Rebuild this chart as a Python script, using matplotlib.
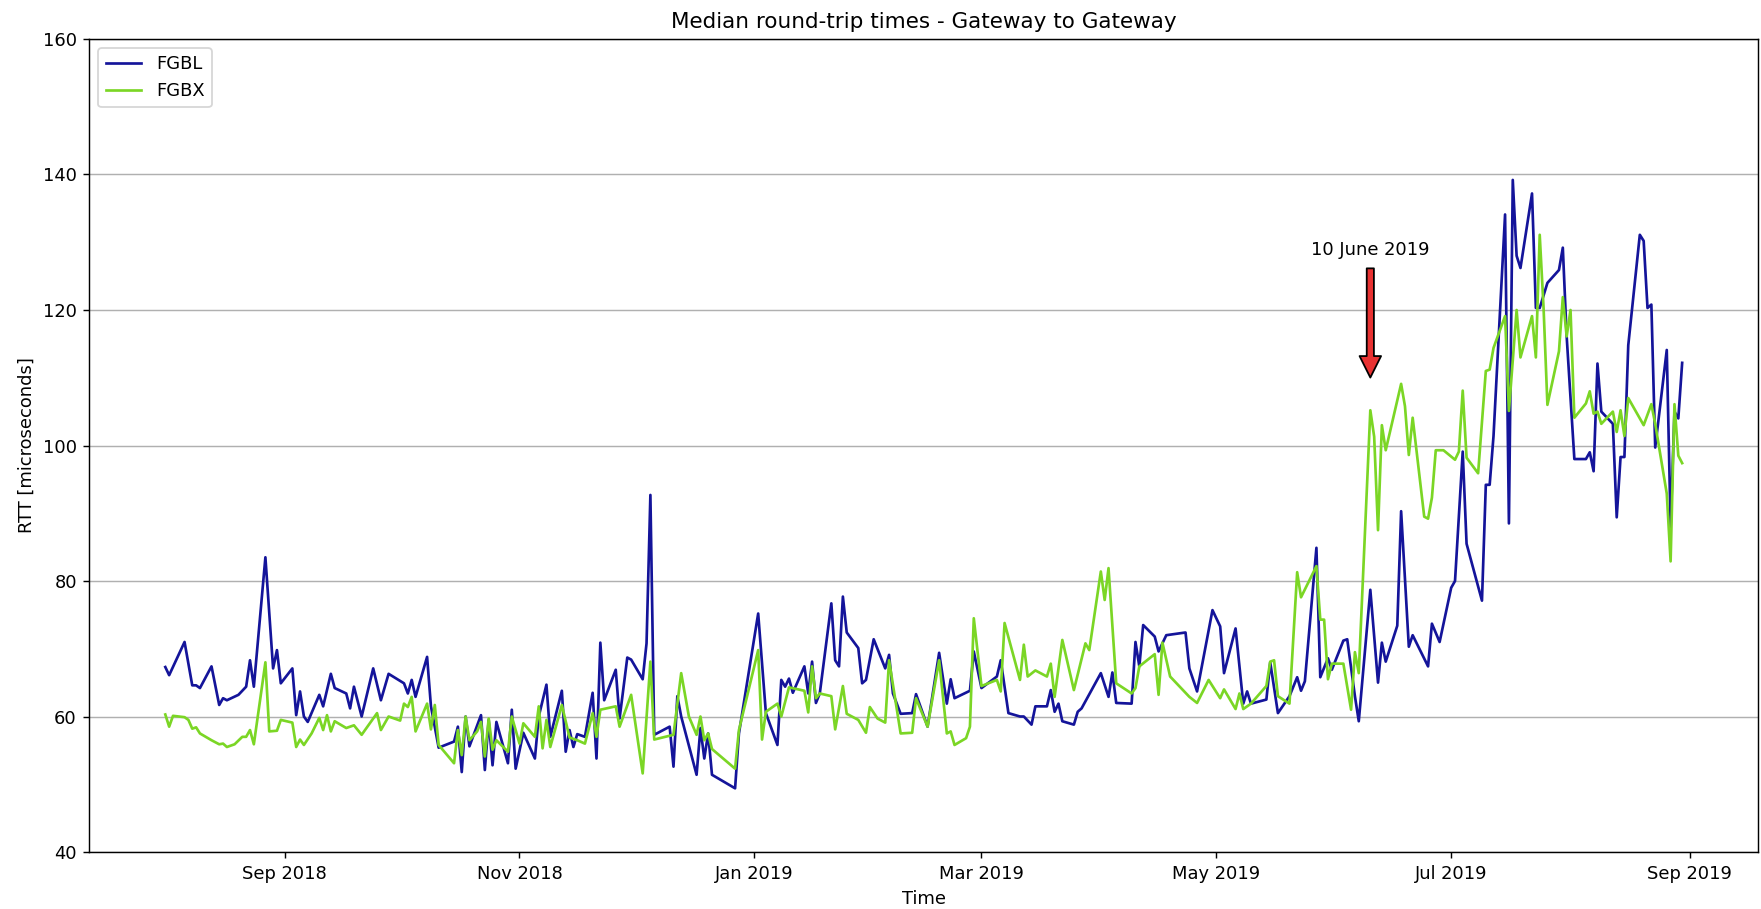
import matplotlib
matplotlib.use("Agg")
import matplotlib.pyplot as plt
import matplotlib.dates as mdates
import numpy as np

# Median RTT per day, day offsets counted from 1 Aug 2018
start = np.datetime64("2018-08-01")

fgbl_day = [0, 1, 5, 7, 8, 9, 12, 14, 15, 16, 19, 21, 22, 23, 26, 28, 29, 30, 33, 34,
            35, 36, 37, 40, 41, 43, 44, 47, 48, 49, 51, 54, 56, 58, 62, 63, 64, 65, 68, 69,
            71, 75, 76, 77, 78, 79, 82, 83, 84, 85, 86, 89, 90, 91, 93, 96, 97, 99, 100, 103,
            104, 105, 106, 107, 109, 111, 112, 113, 114, 117, 118, 120, 121, 124, 125, 126, 127, 131, 132, 133,
            134, 138, 139, 140, 141, 142, 148, 149, 154, 156, 159, 160, 161, 162, 163, 166, 167, 168, 169, 170,
            173, 174, 175, 176, 177, 180, 181, 182, 184, 187, 188, 189, 191, 194, 195, 198, 201, 203, 204, 205,
            209, 210, 212, 216, 217, 219, 222, 223, 225, 226, 229, 230, 231, 232, 233, 236, 237, 238, 243, 245,
            246, 247, 251, 252, 253, 254, 257, 258, 260, 265, 266, 268, 272, 274, 275, 278, 280, 281, 282, 286,
            287, 289, 292, 294, 295, 296, 299, 300, 302, 303, 306, 307, 309, 310, 313, 315, 316, 317, 320, 321,
            323, 324, 328, 329, 331, 334, 335, 337, 338, 342, 343, 344, 345, 348, 349, 350, 351, 352, 355, 356,
            357, 359, 362, 363, 364, 366, 369, 370, 371, 372, 373, 376, 377, 378, 379, 380, 383, 384, 385, 386,
            387, 390, 391, 392, 393, 394]
fgbl_rtt = [67.3, 66.1, 71.0, 64.6, 64.6, 64.2, 67.4, 61.7, 62.7, 62.4, 63.2, 64.4, 68.3, 64.4, 83.5, 67.1, 69.8, 64.9, 67.1, 60.2,
            63.7, 60.0, 59.2, 63.2, 61.5, 66.3, 64.2, 63.4, 61.2, 64.4, 60.0, 67.1, 62.4, 66.3, 64.9, 63.4, 65.4, 62.9, 68.8, 61.5,
            55.4, 56.3, 58.5, 51.8, 60.0, 55.6, 60.2, 52.1, 59.5, 52.8, 59.2, 53.1, 61.0, 52.3, 57.6, 53.8, 60.0, 64.7, 57.0, 63.8,
            54.8, 58.0, 55.5, 57.4, 57.0, 63.5, 53.8, 70.9, 62.4, 66.9, 59.7, 68.7, 68.4, 65.5, 70.8, 92.7, 57.3, 58.5, 52.6, 63.0,
            60.0, 51.4, 58.3, 53.8, 57.5, 51.4, 49.4, 57.5, 75.2, 60.5, 55.8, 65.4, 64.4, 65.6, 63.5, 67.4, 63.4, 68.1, 62.0, 63.4,
            76.7, 68.3, 67.4, 77.7, 72.4, 70.1, 64.9, 65.4, 71.4, 67.1, 69.1, 63.4, 60.4, 60.5, 63.3, 58.5, 69.4, 61.9, 65.5, 62.7,
            63.8, 69.6, 64.2, 65.9, 68.3, 60.5, 60.0, 60.0, 58.8, 61.5, 61.5, 63.9, 60.7, 61.9, 59.3, 58.8, 60.7, 61.2, 66.4, 62.9,
            66.5, 62.0, 61.9, 71.0, 67.4, 73.5, 71.8, 69.6, 72.0, 72.4, 67.1, 63.7, 75.7, 73.3, 66.4, 73.0, 61.9, 63.7, 61.9, 62.5,
            68.0, 60.5, 63.0, 65.8, 63.8, 65.2, 84.9, 65.8, 68.6, 66.9, 71.2, 71.4, 63.0, 59.3, 78.7, 65.0, 70.9, 68.1, 73.4, 90.3,
            70.3, 72.0, 67.4, 73.7, 71.0, 79.0, 80.0, 99.1, 85.5, 77.1, 94.2, 94.2, 101.4, 134.1, 88.5, 139.2, 128.0, 126.2, 137.2, 120.3,
            120.3, 124.0, 125.9, 129.2, 116.1, 98.0, 98.0, 99.0, 96.2, 112.1, 105.0, 103.2, 89.4, 98.3, 98.3, 114.8, 131.1, 130.2, 120.3, 120.8,
            99.7, 114.1, 88.0, 105.0, 104.0, 112.2]

fgbx_day = [0, 1, 2, 5, 6, 7, 8, 9, 12, 14, 15, 16, 18, 20, 21, 22, 23, 26, 27, 29,
            30, 33, 34, 35, 36, 38, 40, 41, 42, 43, 44, 47, 49, 51, 55, 56, 58, 61, 62, 63,
            64, 65, 68, 69, 70, 71, 75, 76, 77, 78, 79, 81, 82, 83, 84, 85, 86, 89, 90, 92,
            93, 96, 97, 98, 99, 100, 103, 105, 107, 109, 111, 112, 113, 117, 118, 121, 124, 126, 127, 132,
            134, 136, 138, 139, 140, 141, 142, 148, 149, 154, 155, 156, 159, 160, 162, 166, 167, 168, 169, 170,
            173, 174, 176, 177, 180, 182, 183, 185, 187, 188, 191, 194, 195, 198, 201, 203, 204, 205, 208, 209,
            210, 212, 216, 217, 218, 222, 223, 224, 226, 229, 230, 231, 233, 236, 239, 240, 243, 244, 245, 247,
            251, 252, 253, 257, 258, 259, 261, 266, 268, 271, 274, 275, 278, 279, 280, 282, 286, 287, 288, 289,
            292, 294, 295, 299, 300, 301, 302, 303, 306, 308, 309, 310, 313, 314, 315, 316, 317, 321, 322, 323,
            324, 327, 328, 329, 330, 332, 335, 336, 337, 338, 341, 343, 344, 345, 348, 349, 351, 352, 355, 356,
            357, 358, 359, 362, 363, 364, 365, 366, 369, 370, 371, 372, 373, 376, 377, 378, 379, 380, 384, 386,
            387, 390, 391, 392, 393, 394]
fgbx_rtt = [60.3, 58.5, 60.1, 59.9, 59.5, 58.2, 58.4, 57.5, 56.5, 55.9, 56.0, 55.5, 55.9, 57.0, 57.0, 58.0, 55.9, 68.0, 57.8, 57.9,
            59.5, 59.1, 55.5, 56.6, 55.8, 57.5, 59.8, 58.0, 60.2, 57.8, 59.3, 58.3, 58.7, 57.3, 60.5, 58.0, 60.0, 59.4, 61.9, 61.4,
            62.9, 57.8, 61.9, 58.1, 61.7, 55.8, 53.1, 58.0, 54.3, 60.0, 56.5, 57.8, 59.2, 54.1, 59.7, 55.1, 56.5, 54.8, 60.0, 56.0,
            59.0, 57.0, 61.5, 55.3, 59.5, 55.5, 61.7, 56.9, 56.5, 56.0, 60.5, 57.0, 61.0, 61.5, 58.5, 63.2, 51.6, 68.1, 56.6, 57.3,
            66.4, 60.0, 57.3, 60.0, 56.5, 57.5, 55.2, 52.3, 58.0, 69.8, 56.6, 60.7, 61.9, 60.0, 64.3, 63.8, 60.6, 67.4, 62.7, 63.4,
            63.0, 58.1, 64.5, 60.4, 59.5, 57.6, 61.4, 59.7, 59.1, 68.3, 57.5, 57.6, 62.7, 58.5, 68.3, 57.5, 57.8, 55.8, 56.8, 58.5,
            74.5, 64.5, 65.4, 63.7, 73.8, 65.4, 70.6, 65.9, 66.8, 65.9, 67.8, 62.9, 71.3, 63.9, 70.8, 69.8, 81.4, 77.2, 81.9, 64.9,
            63.4, 64.2, 67.4, 69.2, 63.2, 70.9, 65.9, 62.9, 62.0, 65.4, 62.7, 64.0, 61.1, 63.4, 61.1, 61.9, 64.5, 68.1, 68.3, 63.0,
            61.9, 81.3, 77.6, 82.2, 74.3, 74.3, 65.5, 67.8, 67.8, 61.0, 69.5, 66.4, 105.2, 101.3, 87.5, 103.0, 99.3, 109.1, 105.8, 98.6,
            104.1, 89.5, 89.2, 92.3, 99.3, 99.3, 97.9, 99.1, 108.1, 98.2, 95.9, 111.0, 111.2, 114.4, 119.1, 105.1, 120.0, 113.0, 119.1, 113.0,
            131.1, 120.3, 106.0, 113.9, 121.9, 116.1, 120.0, 104.1, 106.2, 108.0, 104.7, 105.0, 103.2, 105.0, 102.0, 105.2, 101.4, 107.0, 103.0, 106.1,
            103.2, 92.9, 82.9, 106.1, 98.5, 97.4]

event_date = np.datetime64("2019-06-10")
event_label = "10 June 2019"

fgbl_time = start + np.array(fgbl_day).astype("timedelta64[D]")
fgbx_time = start + np.array(fgbx_day).astype("timedelta64[D]")

dpi = 129
fig = plt.figure(figsize=(1761 / dpi, 909 / dpi), dpi=dpi)
ax = fig.add_axes([0.0508, 0.0627, 0.9475, 0.8944])

ax.plot(fgbl_time, fgbl_rtt, color="#14149a", label="FGBL")
ax.plot(fgbx_time, fgbx_rtt, color="#7bd625", label="FGBX")

ax.set_ylim(40, 160)
ax.yaxis.set_major_locator(plt.MultipleLocator(20))
ax.xaxis.set_major_locator(mdates.MonthLocator(bymonth=[1, 3, 5, 7, 9, 11]))
ax.xaxis.set_major_formatter(mdates.DateFormatter("%b %Y"))
ax.grid(axis="y")

ax.annotate(event_label, xy=(event_date, 109.1), xytext=(event_date, 127.6),
            ha="center", va="bottom",
            arrowprops=dict(facecolor="#e83232", shrink=0.05))

ax.set_title("Median round-trip times - Gateway to Gateway")
ax.set_xlabel("Time")
ax.set_ylabel("RTT [microseconds]")
ax.legend(loc="upper left")

fig.savefig("out.png", dpi=dpi)
